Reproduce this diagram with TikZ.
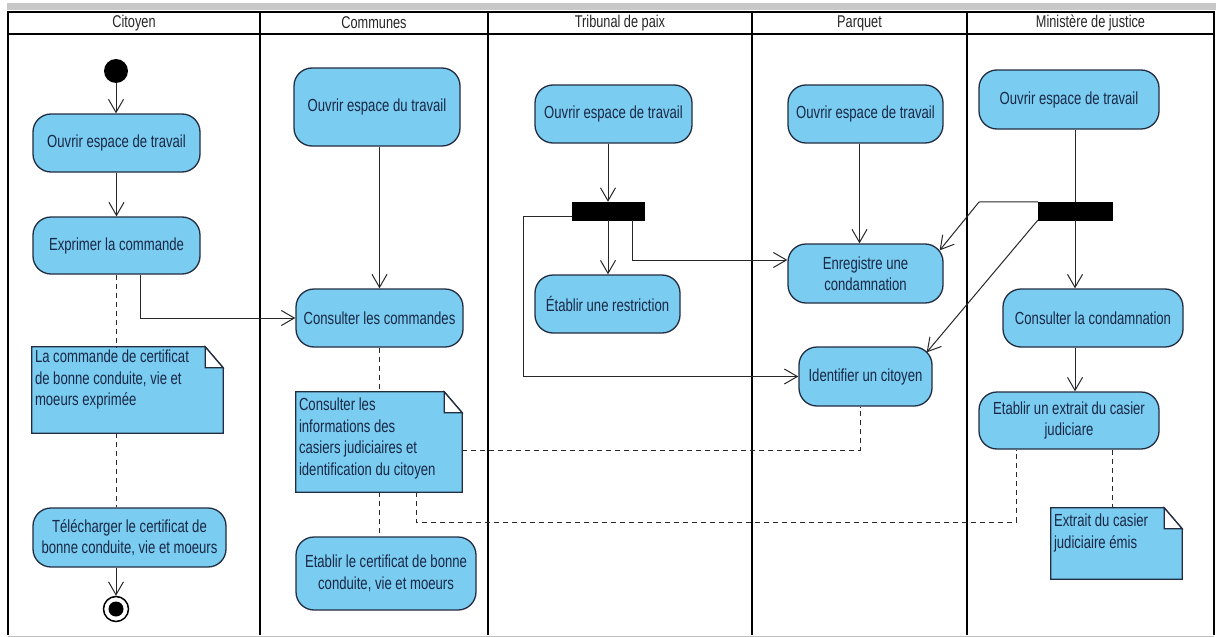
\documentclass[tikz,border=0pt]{standalone}
\usepackage{fontspec}
\setmainfont{Liberation Sans}[FakeStretch=0.75]
\usetikzlibrary{arrows.meta,calc}
\definecolor{actfill}{RGB}{122,204,240}
\definecolor{actdraw}{RGB}{35,45,65}
\definecolor{txtcol}{RGB}{25,40,70}
\definecolor{bandgray}{RGB}{200,200,200}
\definecolor{linecol}{RGB}{40,40,40}
\newcommand\drawnote[1]{%
  \fill[actfill] (#1.north west) -- ($(#1.north east)+(-18,0)$) -- ($(#1.north east)+(0,21)$) -- (#1.south east) -- (#1.south west) -- cycle;
  \draw[notedraw] (#1.north west) -- ($(#1.north east)+(-18,0)$) -- ($(#1.north east)+(0,21)$) -- (#1.south east) -- (#1.south west) -- cycle;
  \filldraw[notedraw,fill=white] ($(#1.north east)+(-18,0)$) -- ++(0,21) -- ++(18,0) -- cycle;
}
\begin{document}
\begin{tikzpicture}[x=1pt,y=-1pt,
  lane/.style={draw=black,line width=2pt},
  header/.style={font=\fontsize{17}{20}\selectfont,text=black!85,inner sep=0pt},
  act/.style={rectangle,rounded corners=18pt,draw=actdraw,line width=1.3pt,fill=actfill,
    text=txtcol,align=center,inner sep=2pt,font=\fontsize{17.5}{21.5}\selectfont},
  notebox/.style={rectangle,draw=none,inner sep=0pt},
  notedraw/.style={draw=actdraw,line width=1.3pt},
  notetext/.style={text=txtcol,align=left,inner sep=0pt,font=\fontsize{17.5}{21.5}\selectfont},
  barnode/.style={rectangle,fill=black,draw=black,inner sep=0pt},
  initnode/.style={circle,fill=black,inner sep=0pt,minimum size=24pt},
  finalnode/.style={circle,draw=black,line width=1.5pt,fill=white,inner sep=0pt,minimum size=25pt,
    path picture={\fill[black] (path picture bounding box.center) circle (7.5pt);}},
  flow/.style={draw=linecol,line width=1pt,-{Straight Barb[length=13pt,width=15pt]}},
  plain/.style={draw=linecol,line width=1pt},
  dep/.style={draw=linecol,line width=1pt,dash pattern=on 5pt off 4pt}
]
\useasboundingbox (0,0) rectangle (1216,637);
\fill[white] (0,0) rectangle (1216,637);
\fill[bandgray] (7,3) rectangle (1216,10);

% swimlanes
\draw[lane] (8,635) -- (8,12) -- (1214,12) -- (1214,635);
\draw[lane] (8,34) -- (1214,34);
\foreach \x in {260,488,752,967} \draw[lane] (\x,12) -- (\x,635);
\draw[black!25,line width=1pt] (8,636) -- (1214,636);

\node[header] (h1) at (134,23) {Citoyen};
\node[header] (h2) at (374,23) {Communes};
\node[header] (h3) at (620,23) {Tribunal de paix};
\node[header] (h4) at (859.5,23) {Parquet};
\node[header] (h5) at (1090.5,23) {Ministère de justice};

% Citoyen
\node[initnode] (c_init) at (116,71) {};
\node[act,minimum width=167pt,minimum height=58pt] (c_open) at (116.5,143) {Ouvrir espace de travail};
\node[act,minimum width=167pt,minimum height=57pt] (c_expr) at (116.5,245.5) {Exprimer la commande};
\node[notebox,minimum width=191pt,minimum height=86pt] (c_note) at (127.5,390) {};
\drawnote{c_note}
\node[notetext,anchor=north west] (c_note_t) at ($(c_note.north west)+(3,3)$) {La commande de certificat\\de bonne conduite, vie et\\moeurs exprimée};
\node[act,minimum width=193pt,minimum height=59pt] (c_dl) at (129.5,537.5) {Télécharger le certificat de\\bonne conduite, vie et moeurs};
\node[finalnode] (c_final) at (116,609) {};

% Communes
\node[act,minimum width=166pt,minimum height=78pt] (m_open) at (377,107) {Ouvrir espace du travail};
\node[act,minimum width=167pt,minimum height=58pt] (m_cons) at (379.5,318) {Consulter les commandes};
\node[notebox,minimum width=166pt,minimum height=100pt] (m_note) at (379,442) {};
\drawnote{m_note}
\node[notetext,anchor=north west] (m_note_t) at ($(m_note.north west)+(3,6)$) {Consulter les\\informations des\\casiers judiciaires et\\identification du citoyen};
\node[act,minimum width=180pt,minimum height=73pt] (m_etab) at (386,573.5) {Etablir le certificat de bonne\\conduite, vie et moeurs};

% Tribunal de paix
\node[act,minimum width=157pt,minimum height=58pt] (t_open) at (613.5,114) {Ouvrir espace de travail};
\node[barnode,minimum width=72pt,minimum height=18pt] (t_bar) at (608,211) {};
\node[act,minimum width=145pt,minimum height=58pt] (t_restr) at (607.5,304) {Établir une restriction};

% Parquet
\node[act,minimum width=155pt,minimum height=58pt] (p_open) at (865.5,114) {Ouvrir espace de travail};
\node[act,minimum width=155pt,minimum height=59pt] (p_enr) at (865.5,273.5) {Enregistre une\\condamnation};
\node[act,minimum width=133pt,minimum height=59pt] (p_id) at (865.5,376.5) {Identifier un citoyen};

% Ministere de justice
\node[act,minimum width=180pt,minimum height=59pt] (j_open) at (1069,99.5) {Ouvrir espace de travail};
\node[barnode,minimum width=74pt,minimum height=18pt] (j_bar) at (1075,211) {};
\node[act,minimum width=180pt,minimum height=58pt] (j_cons) at (1093,318) {Consulter la condamnation};
\node[act,minimum width=180pt,minimum height=57pt] (j_extr) at (1069,420.5) {Etablir un extrait du casier\\judiciare};
\node[notebox,minimum width=131pt,minimum height=71pt] (j_note) at (1116.5,543.5) {};
\drawnote{j_note}
\node[notetext,anchor=north west] (j_note_t) at ($(j_note.north west)+(3,6)$) {Extrait du casier\\judiciaire émis};

% control flows
\draw[flow] (c_init.south) -- (c_open.north -| c_init);
\draw[flow] (c_open) -- (c_expr);
\draw[flow] (c_dl.south -| c_final) -- (c_final.north);
\draw[flow] ($(c_expr.south)+(24,0)$) |- (m_cons.west);
\draw[flow] (m_open.south -| m_cons) -- (m_cons.north);
\draw[flow] (t_open.south -| t_bar) -- (t_bar.north);
\draw[flow] (t_bar.south) -- (t_restr.north -| t_bar);
\draw[flow] ($(t_bar.south east)+(-12,0)$) |- ($(p_enr.west)+(0,-13.5)$);
\draw[flow] ($(t_bar.west)+(0,5)$) -- ++(-48,0) |- (p_id.west);
\coordinate (px) at ($(p_open.south)+(-6,0)$);
\draw[flow] (px) -- (px |- p_enr.north);
\draw[plain] (j_open.south -| j_bar) -- (j_bar.north);
\draw[flow] (j_bar.south) -- (j_bar.south |- j_cons.north);
\draw[flow] (j_cons.south -| j_bar) -- (j_extr.north -| j_bar);
\draw[flow] (j_bar.north west) -- (979,202) -- ($(p_enr.north east)+(-4,7)$);
\draw[flow] (j_bar.south west) -- ($(p_id.north east)+(-6,6)$);

% note anchors (dashed)
\draw[dep] (c_expr.south -| c_init) -- (c_note.north -| c_init);
\draw[dep] (c_note.south -| c_init) -- (c_dl.north -| c_init);
\draw[dep] (m_cons.south) -- (m_cons.south |- m_note.north);
\draw[dep] (m_note.south -| m_cons) -- (m_etab.north -| m_cons);
\draw[dep] ($(m_note.east)+(0,8)$) -| ($(p_id.south)+(-5,0)$);
\draw[dep] ($(m_note.south)+(37,0)$) -- ++(0,30) -| ($(j_extr.south)+(-53,0)$);
\coordinate (jx) at ($(j_extr.south)+(43,0)$);
\draw[dep] (jx) -- (jx |- j_note.north);
\end{tikzpicture}
\end{document}
